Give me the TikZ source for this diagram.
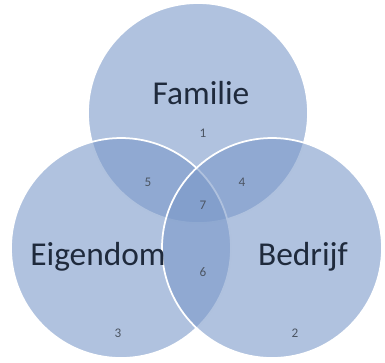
\documentclass[tikz,border=0pt]{standalone}
\usepackage{fontspec}
\setmainfont{Carlito}
\usepackage{tikz}

\definecolor{vennblauw}{HTML}{7B99C9}
\definecolor{tekst}{HTML}{1F2A3C}

\begin{document}
\begin{tikzpicture}[x=0.2mm, y=-0.2mm,
	cirkel/.style={circle, minimum size=44mm, inner sep=0pt, fill=vennblauw, fill opacity=0.6, draw=white, line width=0.35mm},
	naam/.style={font=\fontsize{19}{21}\selectfont, text=tekst},
	nummer/.style={font=\fontsize{7.5}{8}\selectfont, text=tekst!80}]
	\useasboundingbox (0,0) rectangle (385,362);
	
	% de drie cirkels
	\node[cirkel] (familie) at (198,113) {};
	\node[cirkel] (eigendom) at (121,248) {};
	\node[cirkel] (bedrijf) at (272,248) {};
	
	\node[naam] (tfamilie) at (201,93) {Familie};
	\node[naam] (teigendom) at (98,257) {Eigendom};
	\node[naam] (tbedrijf) at (303,257) {Bedrijf};
	
	% nummers van de gebieden
	\node[nummer] (n1) at (203,133) {1};
	\node[nummer] (n2) at (295,333) {2};
	\node[nummer] (n3) at (118,333) {3};
	\node[nummer] (n4) at (242,182) {4};
	\node[nummer] (n5) at (148,182) {5};
	\node[nummer] (n6) at (203,272) {6};
	\node[nummer] (n7) at (203,205) {7};
\end{tikzpicture}
\end{document}
